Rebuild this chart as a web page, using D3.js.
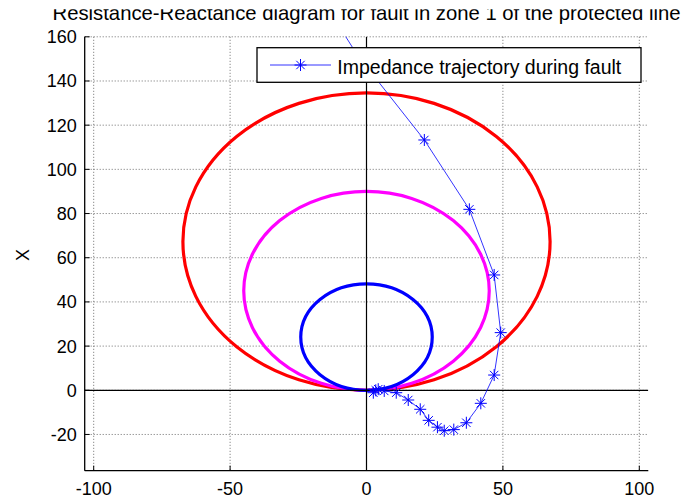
<!DOCTYPE html>
<html>
<head>
<meta charset="utf-8">
<script src="https://cdn.jsdelivr.net/npm/d3@7"></script>
<style>
  body { margin: 0; background: #fff; }
  text { font-family: "Liberation Sans", Arial, sans-serif; fill: #000; }
</style>
</head>
<body>
<div id="chart"></div>
<script>
// mho zone circles (R, X plane)
const zoneNames = ['Zone 3', 'Zone 2', 'Zone 1']
const zoneCenterR = [0, 0, 0]
const zoneCenterX = [67.3, 45, 24.1]
const zoneRadius = [67.3, 45, 24.1]

// impedance trajectory during fault
const trajR = [-28, -3.5, 21.2, 37.7, 46.8, 49.2, 46.8, 41.9, 36.6, 32, 28.5, 26, 22.8, 19.7, 15.3, 10.9, 6.5, 4.3, 3.4, 2.5]
const trajX = [200, 152, 113.3, 81.9, 52.2, 26.1, 6.9, -5.9, -14.7, -17.8, -18.3, -16.7, -13.6, -8.6, -4.4, -1.1, -0.3, 0.5, 0, -1.1]

const xTicks = [-100, -50, 0, 50, 100]
const yTicks = [-20, 0, 20, 40, 60, 80, 100, 120, 140, 160]

const titleText = 'Resistance-Reactance diagram for fault in zone 1 of the protected line'
const legendText = 'Impedance trajectory during fault'
const yLabel = 'X'

const width = 693
const height = 499
const plot = { left: 84.7, right: 648.3, top: 36.8, bottom: 470.7 }

const x = d3.scaleLinear().domain([-103.3, 103.3]).range([plot.left, plot.right])
const y = d3.scaleLinear().domain([-36.4, 160]).range([plot.bottom, plot.top])
const zoneColor = d3.scaleOrdinal().domain(zoneNames).range(['#ff0000', '#ff00ff', '#0000ff'])

const svg = d3.select('#chart').append('svg')
  .attr('width', width)
  .attr('height', height)

const defs = svg.append('defs')
defs.append('clipPath').attr('id', 'plotclip')
  .append('rect')
  .attr('x', plot.left).attr('y', plot.top)
  .attr('width', plot.right - plot.left).attr('height', plot.bottom - plot.top)
defs.append('clipPath').attr('id', 'titleclip')
  .append('rect')
  .attr('x', 0).attr('y', 9.3).attr('width', width).attr('height', 30)

// grid
const grid = svg.append('g')
grid.selectAll('.gx').data(xTicks).enter().append('line')
  .attr('x1', d => x(d)).attr('x2', d => x(d))
  .attr('y1', plot.top).attr('y2', plot.bottom)
  .attr('stroke', '#6e6e6e').attr('stroke-width', 1).attr('stroke-dasharray', '1,2')
grid.selectAll('.gy').data(yTicks).enter().append('line')
  .attr('x1', plot.left).attr('x2', plot.right)
  .attr('y1', d => y(d)).attr('y2', d => y(d))
  .attr('stroke', '#6e6e6e').attr('stroke-width', 1).attr('stroke-dasharray', '1,2')

const body = svg.append('g').attr('clip-path', 'url(#plotclip)')

// zone circles
body.selectAll('.zone')
  .data(zoneNames)
  .enter()
  .append('ellipse')
  .attr('cx', (d, i) => x(zoneCenterR[i]))
  .attr('cy', (d, i) => y(zoneCenterX[i]))
  .attr('rx', (d, i) => x(zoneRadius[i]) - x(0))
  .attr('ry', (d, i) => y(0) - y(zoneRadius[i]))
  .attr('fill', 'none')
  .attr('stroke', d => zoneColor(d))
  .attr('stroke-width', 3.2)

// zero axes
body.append('line')
  .attr('x1', x(0)).attr('x2', x(0)).attr('y1', plot.top).attr('y2', plot.bottom)
  .attr('stroke', '#000').attr('stroke-width', 1.2)
body.append('line')
  .attr('x1', plot.left).attr('x2', plot.right).attr('y1', y(0)).attr('y2', y(0))
  .attr('stroke', '#000').attr('stroke-width', 1.2)

// trajectory
const pts = trajR.map((r, i) => [r, trajX[i]])
body.append('path')
  .datum(pts)
  .attr('d', d3.line().x(d => x(d[0])).y(d => y(d[1])))
  .attr('fill', 'none')
  .attr('stroke', '#0000ff')
  .attr('stroke-width', 0.8)

const star = 'M-6,0H6M0,-6V6M-4.2,-4.2L4.2,4.2M-4.2,4.2L4.2,-4.2'
body.selectAll('.mk')
  .data(pts)
  .enter()
  .append('path')
  .attr('transform', d => `translate(${x(d[0])},${y(d[1])})`)
  .attr('d', star)
  .attr('fill', 'none')
  .attr('stroke', '#0000ff')
  .attr('stroke-width', 1)

// axes (left and bottom only, ticks inward)
const axisG = svg.append('g')
axisG.append('line')
  .attr('x1', plot.left).attr('x2', plot.left).attr('y1', plot.top).attr('y2', plot.bottom)
  .attr('stroke', '#000').attr('stroke-width', 1.3)
axisG.append('line')
  .attr('x1', plot.left).attr('x2', plot.right).attr('y1', plot.bottom).attr('y2', plot.bottom)
  .attr('stroke', '#000').attr('stroke-width', 1.3)
axisG.selectAll('.ty').data(yTicks).enter().append('line')
  .attr('x1', plot.left).attr('x2', plot.left + 5)
  .attr('y1', d => y(d)).attr('y2', d => y(d))
  .attr('stroke', '#000')
axisG.selectAll('.tx').data(xTicks).enter().append('line')
  .attr('x1', d => x(d)).attr('x2', d => x(d))
  .attr('y1', plot.bottom).attr('y2', plot.bottom - 5)
  .attr('stroke', '#000')
axisG.selectAll('.ly').data(yTicks).enter().append('text')
  .attr('x', plot.left - 8)
  .attr('y', d => y(d))
  .attr('dy', '0.36em')
  .attr('text-anchor', 'end')
  .style('font-size', '18px')
  .text(d => d)
axisG.selectAll('.lx').data(xTicks).enter().append('text')
  .attr('x', d => x(d))
  .attr('y', 495)
  .attr('text-anchor', 'middle')
  .style('font-size', '18px')
  .text(d => d)

svg.append('text')
  .attr('transform', 'translate(29,255) rotate(-90)')
  .attr('text-anchor', 'middle')
  .style('font-size', '18px')
  .text(yLabel)

// title, clipped at the top like the source image
svg.append('text')
  .attr('clip-path', 'url(#titleclip)')
  .attr('x', (plot.left + plot.right) / 2)
  .attr('y', 20)
  .attr('text-anchor', 'middle')
  .style('font-size', '20.3px')
  .text(titleText)

// legend
const lg = svg.append('g')
lg.append('rect')
  .attr('x', 257).attr('y', 47.7).attr('width', 384).attr('height', 34.6)
  .attr('fill', '#fff').attr('stroke', '#000').attr('stroke-width', 1.3)
lg.append('line')
  .attr('x1', 270).attr('x2', 331).attr('y1', 65).attr('y2', 65)
  .attr('stroke', '#0000ff').attr('stroke-width', 0.8)
lg.append('path')
  .attr('transform', 'translate(300.5,65)')
  .attr('d', star)
  .attr('fill', 'none').attr('stroke', '#0000ff').attr('stroke-width', 1)
lg.append('text')
  .attr('x', 337.3).attr('y', 74)
  .style('font-size', '19.5px')
  .text(legendText)
</script>
</body>
</html>
